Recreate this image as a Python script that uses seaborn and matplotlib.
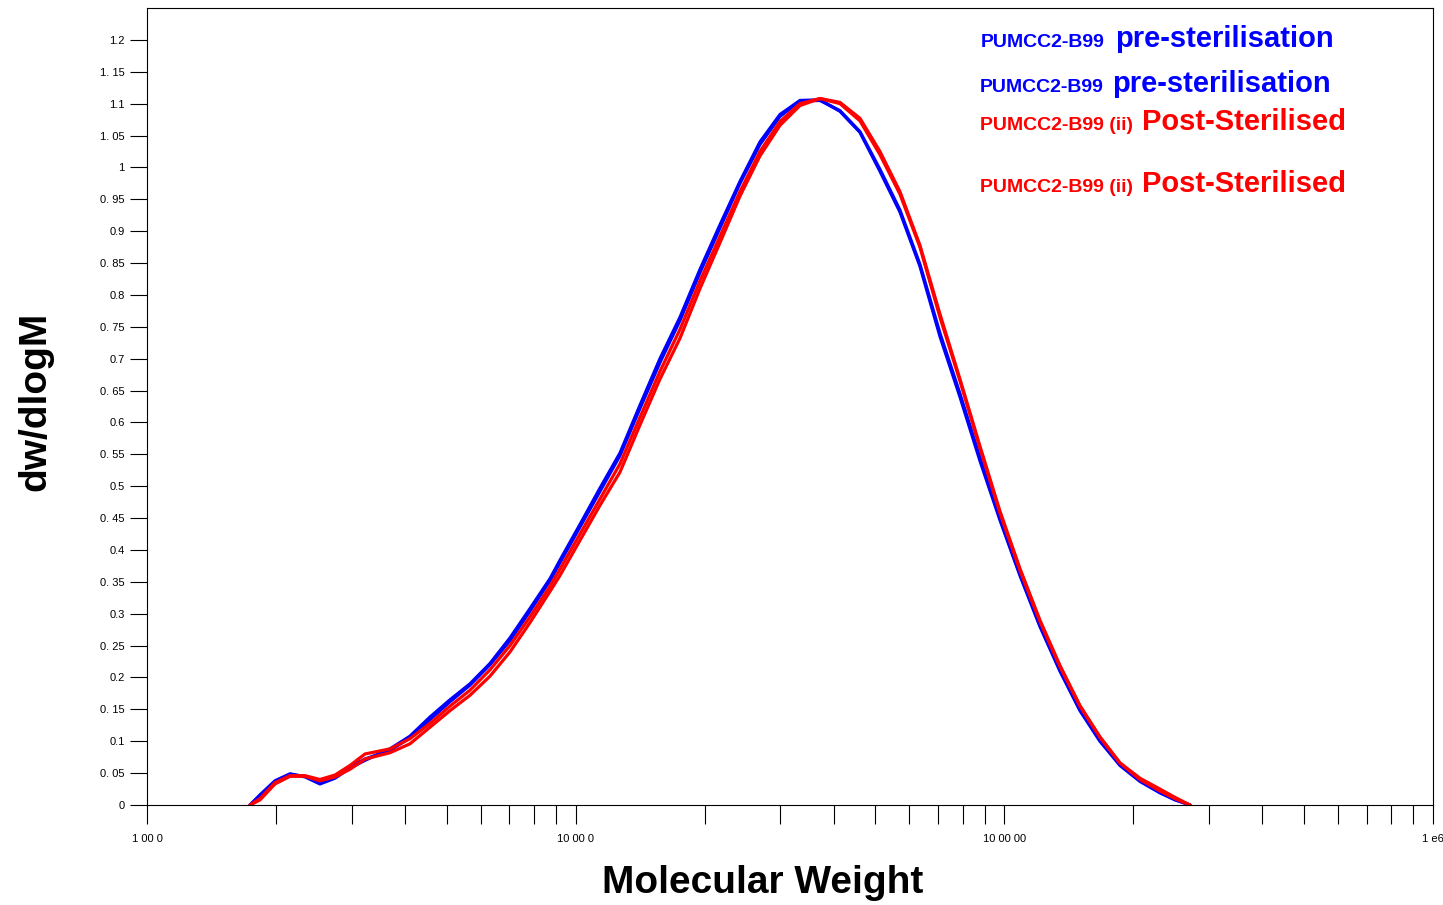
import matplotlib
matplotlib.use("Agg")
import matplotlib.pyplot as plt
import seaborn as sns
import pandas as pd

# molecular weight grid shared by the four traces
mol_weight = [1739, 1835, 1989, 2156, 2337, 2532, 2745, 2975, 3225, 3688,
              4107, 4573, 5091, 5667, 6311, 7026, 7823, 8712, 9193, 10234,
              11396, 12686, 14125, 15727, 17512, 19498, 21712, 24174, 26913, 29970,
              33361, 37150, 41354, 46050, 51264, 57082, 63546, 70761, 78795, 87708,
              97656, 108740, 121060, 134800, 150100, 167100, 186100, 207200, 230700, 250000,
              271000]

pre_a = [0.000, 0.016, 0.038, 0.049, 0.044, 0.033, 0.042, 0.058, 0.070, 0.088,
         0.108, 0.138, 0.165, 0.190, 0.222, 0.262, 0.308, 0.355, 0.384, 0.440,
         0.497, 0.552, 0.627, 0.700, 0.765, 0.840, 0.910, 0.978, 1.040, 1.083,
         1.105, 1.106, 1.088, 1.055, 0.994, 0.930, 0.845, 0.735, 0.640, 0.540,
         0.447, 0.360, 0.280, 0.210, 0.148, 0.100, 0.062, 0.037, 0.019, 0.008,
         0.000]
pre_b = [0.000, 0.014, 0.036, 0.048, 0.045, 0.036, 0.045, 0.060, 0.072, 0.086,
         0.105, 0.134, 0.162, 0.188, 0.220, 0.258, 0.304, 0.352, 0.380, 0.436,
         0.492, 0.548, 0.622, 0.694, 0.760, 0.835, 0.905, 0.975, 1.036, 1.080,
         1.104, 1.105, 1.089, 1.056, 0.997, 0.933, 0.848, 0.740, 0.645, 0.545,
         0.450, 0.362, 0.282, 0.212, 0.150, 0.102, 0.064, 0.038, 0.020, 0.009,
         0.000]
post_a = [0.000, 0.010, 0.035, 0.046, 0.046, 0.040, 0.047, 0.062, 0.080, 0.088,
          0.104, 0.128, 0.155, 0.180, 0.212, 0.250, 0.295, 0.343, 0.370, 0.425,
          0.480, 0.535, 0.608, 0.680, 0.746, 0.822, 0.892, 0.962, 1.025, 1.072,
          1.100, 1.108, 1.100, 1.073, 1.020, 0.958, 0.875, 0.765, 0.665, 0.560,
          0.458, 0.368, 0.288, 0.217, 0.155, 0.106, 0.066, 0.042, 0.025, 0.012,
          0.000]
post_b = [0.000, 0.008, 0.033, 0.045, 0.045, 0.038, 0.044, 0.056, 0.072, 0.082,
          0.096, 0.122, 0.148, 0.172, 0.202, 0.240, 0.286, 0.335, 0.360, 0.415,
          0.470, 0.522, 0.596, 0.668, 0.732, 0.810, 0.882, 0.955, 1.018, 1.066,
          1.097, 1.108, 1.102, 1.077, 1.025, 0.962, 0.878, 0.770, 0.668, 0.563,
          0.461, 0.371, 0.290, 0.219, 0.156, 0.107, 0.066, 0.040, 0.022, 0.010,
          0.000]

y_ticks = [0, 0.05, 0.1, 0.15, 0.2, 0.25, 0.3, 0.35, 0.4, 0.45, 0.5, 0.55,
           0.6, 0.65, 0.7, 0.75, 0.8, 0.85, 0.9, 0.95, 1, 1.05, 1.1, 1.15, 1.2]
y_labels = ["0", "0. 05", "0.1", "0. 15", "0.2", "0. 25", "0.3", "0. 35", "0.4",
            "0. 45", "0.5", "0. 55", "0.6", "0. 65", "0.7", "0. 75", "0.8", "0. 85",
            "0.9", "0. 95", "1", "1. 05", "1.1", "1. 15", "1.2"]
x_ticks = [1000, 10000, 100000, 1000000]
x_labels = ["1 00 0", "10 00 0", "10 00 00", "1 e6"]
x_minor = [m * 10 ** p for p in (3, 4, 5) for m in range(2, 10)]

traces = [("pre-a", pre_a, "#0000ff"), ("pre-b", pre_b, "#0000ff"),
          ("post-a", post_a, "#ff0000"), ("post-b", post_b, "#ff0000")]

sns.set_theme(style="white")
plt.rcParams["font.family"] = ["Liberation Sans", "DejaVu Sans"]
plt.rcParams["text.color"] = "black"
plt.rcParams["axes.labelcolor"] = "black"
plt.rcParams["xtick.color"] = "black"
plt.rcParams["ytick.color"] = "black"

fig = plt.figure(figsize=(14.43, 9.05), dpi=100)
ax = fig.add_axes([147 / 1443, 1 - 805 / 905, (1433 - 147) / 1443, 797 / 905])

for name, vals, col in traces:
    df = pd.DataFrame({"mw": mol_weight, "val": vals})
    sns.lineplot(data=df, x="mw", y="val", color=col, linewidth=2.3,
                 estimator=None, sort=False, ax=ax)

ax.set_xscale("log")
ax.set_xlim(1000, 1000000)
ax.set_ylim(0, 1.25)

ax.set_xticks(x_ticks)
ax.set_xticklabels(x_labels, fontsize=8)
ax.set_xticks(x_minor, minor=True)
ax.set_xticklabels([], minor=True)
ax.set_yticks(y_ticks)
ax.set_yticklabels(y_labels, fontsize=8)

ax.tick_params(axis="x", which="both", direction="out", length=14, width=0.8,
               color="black", labelcolor="black", pad=7, bottom=True, top=False)
ax.tick_params(axis="y", direction="out", length=12, width=0.8, color="black",
               labelcolor="black", pad=4, left=True, right=False)

for sp in ax.spines.values():
    sp.set_visible(True)
    sp.set_color("black")
    sp.set_linewidth(0.8)

ax.set_xlabel("")
ax.set_ylabel("")
fig.text(763 / 1443, 1 - 883 / 905, "Molecular Weight", fontsize=28,
         fontweight="bold", color="black", ha="center", va="center")
fig.text(35 / 1443, 1 - 401 / 905, "dw/dlogM", fontsize=28, fontweight="bold",
         color="black", rotation=90, ha="center", va="center")

# coloured sample labels, top right
def fig_label(x, y, s, size, col):
    fig.text(x / 1443, 1 - y / 905, s, fontsize=size, fontweight="bold",
             color=col, ha="left", va="baseline")

fig_label(981, 47, "PUMCC2-B99", 14, "#0000ff")
fig_label(1115, 47, "pre-sterilisation", 21, "#0000ff")
fig_label(980, 92, "PUMCC2-B99", 14, "#0000ff")
fig_label(1112, 92, "pre-sterilisation", 21, "#0000ff")
fig_label(980, 130, "PUMCC2-B99 (ii)", 14, "#ff0000")
fig_label(1142, 130, "Post-Sterilised", 21, "#ff0000")
fig_label(980, 192, "PUMCC2-B99 (ii)", 14, "#ff0000")
fig_label(1142, 192, "Post-Sterilised", 21, "#ff0000")

fig.savefig("out.png", dpi=100, facecolor="white")
